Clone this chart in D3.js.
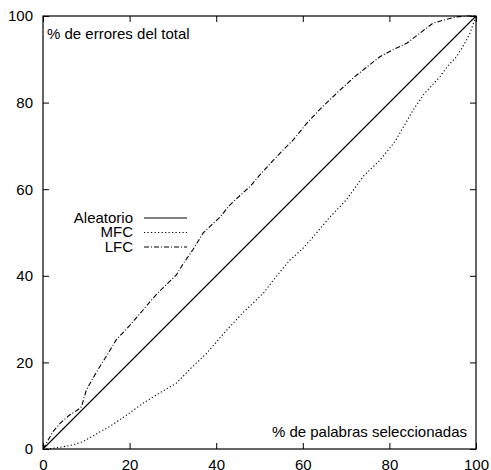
<!DOCTYPE html>
<html>
<head>
<meta charset="utf-8">
<script src="https://cdn.jsdelivr.net/npm/d3@7"></script>
<style>
body { margin: 0; background: #fff; }
text { font-family: "Liberation Sans", Arial, sans-serif; font-size: 15px; fill: #000; }
</style>
</head>
<body>
<div id="chart"></div>
<script>

var ticks = [0, 20, 40, 60, 80, 100];

var aleatorioX = [0, 100];
var aleatorioY = [0, 100];

var mfcX = [0, 2, 4.6, 7, 9.2, 12, 15.4, 19, 23, 27, 30.8, 34, 37.7, 42, 46.2, 50.9, 54, 57, 60, 62.4, 66.3, 70, 74, 77.8, 81.3, 85.5, 88, 91.7, 93.5, 95.5, 97, 98.6, 100];
var mfcY = [0, 0.1, 0.5, 1, 1.7, 3.3, 5.2, 7.6, 10.5, 13, 15.2, 18.5, 22, 27, 31.5, 36, 40, 43.6, 46.3, 49, 53.6, 57.5, 63, 66.7, 71, 78.3, 82, 86, 88.5, 90.6, 93, 96, 100];

var lfcX = [0, 2.3, 4, 6.2, 8, 8.9, 10, 11.5, 13.1, 15, 16.9, 20, 23.1, 26, 28, 30.8, 32.5, 34.6, 37, 40.9, 43.2, 46, 47.8, 50, 53.2, 55.4, 57.8, 60.9, 64, 68.6, 72, 77.8, 81, 84, 87, 90, 93, 95.5, 98, 100];
var lfcY = [0, 4, 6, 7.9, 9, 9.8, 13.6, 16.3, 19, 22, 25.2, 28.5, 32.1, 35.5, 37.5, 40.2, 43, 46, 49.9, 53.6, 56.4, 59, 60.6, 63.2, 66.7, 69, 71.4, 75.2, 78.5, 82.9, 86, 90.6, 92.3, 93.7, 96, 98.3, 99.2, 99.8, 100, 100];

var series = [
    {label: "Aleatorio", xs: aleatorioX, ys: aleatorioY, dash: null},
    {label: "MFC", xs: mfcX, ys: mfcY, dash: "1.2,2.3"},
    {label: "LFC", xs: lfcX, ys: lfcY, dash: "5,2,1,2"}
];

var svg = d3.select("#chart").append("svg").attr("width", 491).attr("height", 470);

var x = d3.scaleLinear().domain([0, 100]).range([43, 476]);
var y = d3.scaleLinear().domain([0, 100]).range([449, 16]);

function styleAxis(g, hideLabels) {
    g.select(".domain").remove();
    g.selectAll(".tick line").attr("stroke", "#000");
    g.selectAll(".tick text").attr("font-size", null).attr("font-family", null);
    if (hideLabels) g.selectAll(".tick text").remove();
}

svg.append("g").attr("transform", "translate(0,449)")
    .call(d3.axisBottom(x).tickValues(ticks).tickSize(-6).tickPadding(10).tickFormat(d3.format("d")))
    .call(function (g) { styleAxis(g, false); });
svg.append("g").attr("transform", "translate(0,16)")
    .call(d3.axisTop(x).tickValues(ticks).tickSize(-6))
    .call(function (g) { styleAxis(g, true); });
svg.append("g").attr("transform", "translate(43,0)")
    .call(d3.axisLeft(y).tickValues(ticks).tickSize(-6).tickPadding(10).tickFormat(d3.format("d")))
    .call(function (g) { styleAxis(g, false); });
svg.append("g").attr("transform", "translate(476,0)")
    .call(d3.axisRight(y).tickValues(ticks).tickSize(-6))
    .call(function (g) { styleAxis(g, true); });

svg.append("rect")
    .attr("x", x(0)).attr("y", y(100))
    .attr("width", x(100) - x(0)).attr("height", y(0) - y(100))
    .attr("fill", "none").attr("stroke", "#000").attr("stroke-width", 1.2);

var line = d3.line()
    .x(function (d) { return x(d[0]); })
    .y(function (d) { return y(d[1]); });

series.forEach(function (s) {
    var pts = s.xs.map(function (v, i) { return [v, s.ys[i]]; });
    svg.append("path")
        .datum(pts)
        .attr("d", line)
        .attr("fill", "none")
        .attr("stroke", "#000")
        .attr("stroke-width", 1.1)
        .attr("stroke-dasharray", s.dash);
});

// legend
series.forEach(function (s, i) {
    var ly = 218 + i * 14.5;
    svg.append("text")
        .attr("x", 133).attr("y", ly + 4.8)
        .attr("text-anchor", "end")
        .text(s.label);
    svg.append("line")
        .attr("x1", 144).attr("x2", 187)
        .attr("y1", ly).attr("y2", ly)
        .attr("stroke", "#000").attr("stroke-width", 1.1)
        .attr("stroke-dasharray", s.dash);
});

svg.append("text").attr("x", 47).attr("y", 39).text("% de errores del total");
svg.append("text").attr("x", 467).attr("y", 437).attr("text-anchor", "end").text("% de palabras seleccionadas");

</script>
</body>
</html>
